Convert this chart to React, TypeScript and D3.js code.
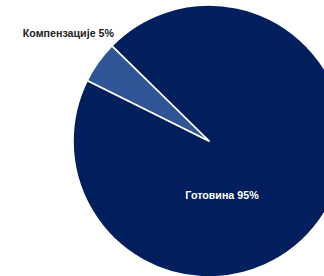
import React from 'react';
import * as d3 from 'd3';

const categories = ['Готовина', 'Компензације'];
const shares = [95, 5];
const colors = ['#001f5c', '#2f5597'];

const W = 324;
const H = 276;
const cx = 209;
const cy = 141;
const radius = 136;
const startDeg = -45.6;
// the source font is a condensed sans, squeeze the glyphs horizontally
const squeeze = 0.93;

const App: React.FC = () => {
  const pie = d3
    .pie<number>()
    .sort(null)
    .startAngle((startDeg * Math.PI) / 180)
    .endAngle((startDeg * Math.PI) / 180 + 2 * Math.PI);
  const arcs = pie(shares);
  const arc = d3.arc<d3.PieArcDatum<number>>().innerRadius(0).outerRadius(radius);

  return (
    <svg
      width={W}
      height={H}
      style={{ position: 'absolute', left: 0, top: 0, background: '#fff' }}
      fontFamily="'Liberation Sans', Arial, sans-serif"
    >
      <g transform={`translate(${cx},${cy})`}>
        {arcs.map((a, i) => (
          <path key={categories[i]} d={arc(a) || ''} fill={colors[i]} stroke="#fff" strokeWidth={1.6} strokeLinejoin="round" />
        ))}
        {/* slice labels */}
        <g transform={`translate(13,58) scale(${squeeze},1)`}>
          <text textAnchor="middle" fill="#fff" fontSize={11.5} fontWeight="bold">
            {`${categories[0]} ${shares[0]}%`}
          </text>
        </g>
        <g transform={`translate(-95,-104) scale(${squeeze},1)`}>
          <text textAnchor="end" fill="#222" fontSize={11.5} fontWeight="bold">
            {`${categories[1]} ${shares[1]}%`}
          </text>
        </g>
      </g>
    </svg>
  );
};

export default App;
